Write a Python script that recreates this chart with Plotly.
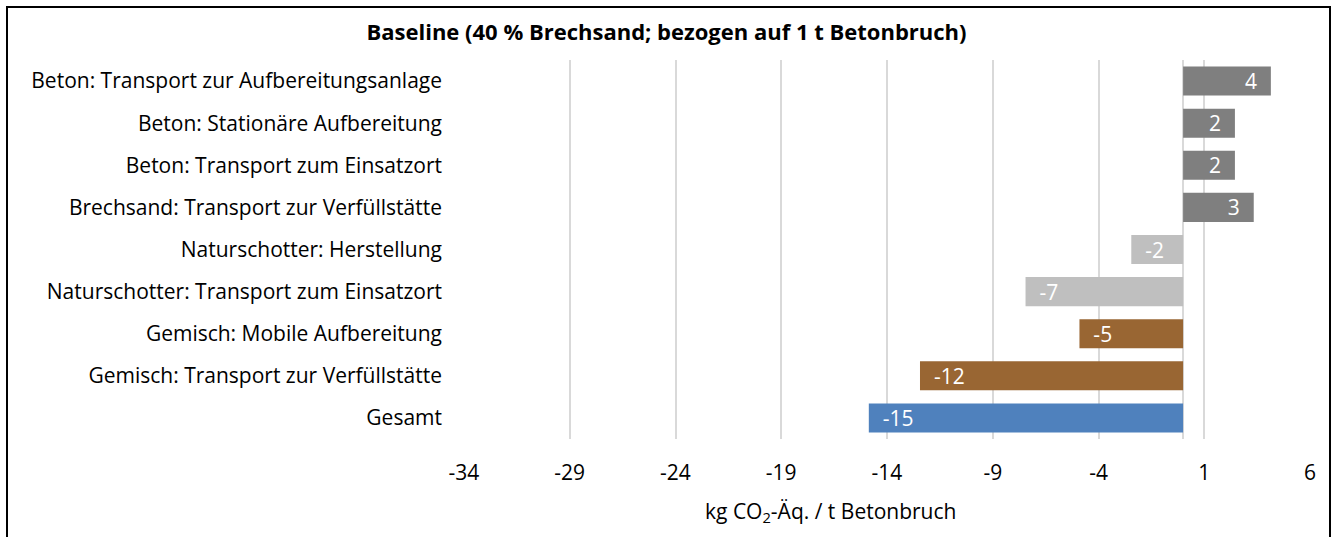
import plotly.graph_objects as go

# Emission contributions per process step (kg CO2-eq per t of crushed concrete)
categories = [
    "Beton: Transport zur Aufbereitungsanlage",
    "Beton: Stationäre Aufbereitung",
    "Beton: Transport zum Einsatzort",
    "Brechsand: Transport zur Verfüllstätte",
    "Naturschotter: Herstellung",
    "Naturschotter: Transport zum Einsatzort",
    "Gemisch: Mobile Aufbereitung",
    "Gemisch: Transport zur Verfüllstätte",
    "Gesamt",
]
values = [4.15, 2.45, 2.45, 3.34, -2.45, -7.45, -4.9, -12.44, -14.86]
bar_colors = [
    "#7F7F7F", "#7F7F7F", "#7F7F7F", "#7F7F7F",
    "#BFBFBF", "#BFBFBF",
    "#996633", "#996633",
    "#4F81BD",
]
tick_values = [-34, -29, -24, -19, -14, -9, -4, 1, 6]

W, H = 1333, 537
ML, MR, MT, MB = 464, 23, 60, 98
FONT = "Open Sans"
FS = 21

pad = "\u00a0\u00a0"
templates = [("%{x:.0f}" + pad) if v >= 0 else (pad + "%{x:.0f}") for v in values]

fig = go.Figure(
    go.Bar(
        x=values,
        y=categories,
        orientation="h",
        marker=dict(color=bar_colors, line=dict(width=0)),
        texttemplate=templates,
        textposition="inside",
        insidetextanchor="end",
        textangle=0,
        insidetextfont=dict(color="white", size=FS, family=FONT),
        constraintext="none",
        hoverinfo="skip",
    )
)

fig.update_layout(
    width=W,
    height=H,
    margin=dict(l=ML, r=MR, t=MT, b=MB, pad=0),
    plot_bgcolor="white",
    paper_bgcolor="white",
    bargap=0.31,
    showlegend=False,
    font=dict(family=FONT, size=FS, color="#000000"),
    title=dict(
        text="<b>Baseline (40 % Brechsand; bezogen auf 1 t Betonbruch)</b>",
        x=0.5,
        xref="container",
        xanchor="center",
        y=1 - 32 / H,
        yref="container",
        yanchor="middle",
        font=dict(family=FONT, size=22, color="#000000"),
    ),
    xaxis=dict(
        range=[-34, 6],
        tickmode="array",
        tickvals=tick_values,
        ticktext=[str(t) for t in tick_values],
        showgrid=True,
        gridcolor="#D9D9D9",
        gridwidth=1.5,
        zeroline=True,
        zerolinecolor="#D9D9D9",
        zerolinewidth=1.5,
        showline=False,
        ticks="",
        ticklabelstandoff=19,
        tickfont=dict(size=FS, color="#000000"),
    ),
    yaxis=dict(
        autorange="reversed",
        showgrid=False,
        zeroline=False,
        showline=False,
        ticks="",
        ticklabelstandoff=21,
        tickfont=dict(size=FS, color="#000000"),
    ),
)

# Outer chart frame and axis title, placed in pixel terms
pw = W - ML - MR
ph = H - MT - MB
def px_x(p):
    return (p - ML) / pw
def px_y(p):
    return 1 - (p - MT) / ph

fig.add_annotation(
    text="kg CO<sub>2</sub>-Äq. / t Betonbruch",
    xref="paper", yref="paper",
    x=px_x(830), y=px_y(512),
    xanchor="center", yanchor="middle",
    showarrow=False,
    font=dict(family=FONT, size=FS, color="#000000"),
)

fig.add_shape(
    type="rect",
    xref="paper", yref="paper",
    x0=px_x(7), x1=px_x(1330), y0=px_y(545), y1=px_y(7),
    line=dict(color="#000000", width=2),
    fillcolor="rgba(0,0,0,0)",
    layer="above",
)

fig.write_html("out.html")
